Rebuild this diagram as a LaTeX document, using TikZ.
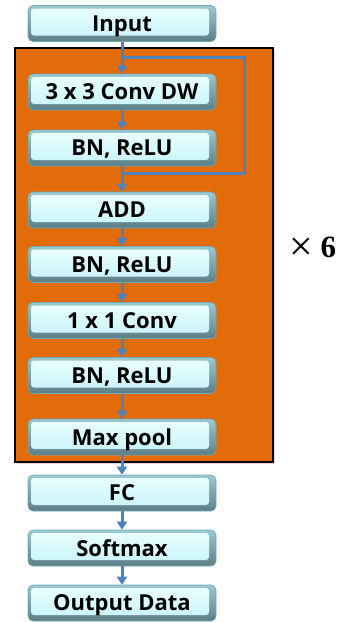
\documentclass[tikz,border=0pt]{standalone}
\usepackage{fontspec}
\setmainfont{Open Sans}
\newfontfamily\boxfont{Open Sans}[UprightFont={* Bold}]
\newfontfamily\serifx{Liberation Serif}
\usetikzlibrary{arrows.meta,shadows}
\definecolor{bevlight}{HTML}{9CC9D2}
\definecolor{bevdark}{HTML}{5C7E86}
\definecolor{bevedge}{HTML}{6FA9B6}
\definecolor{facetop}{HTML}{ECFFFF}
\definecolor{facebot}{HTML}{C4F3FA}
\definecolor{orangebg}{HTML}{E36C0A}
\definecolor{arrblue}{HTML}{4F81BD}
\tikzset{
  blk/.style={minimum width=188pt, minimum height=36pt, rounded corners=5pt, inner sep=0pt,
    font=\boxfont\fontsize{22}{22}\selectfont, text=black, text depth=0pt,
    top color=bevlight, bottom color=bevdark, draw=bevedge, line width=0.6pt,
    path picture={\shade[top color=facetop,bottom color=facebot,rounded corners=3pt]
      ([xshift=3pt,yshift=-3pt]path picture bounding box.north west) rectangle
      ([xshift=-7pt,yshift=6pt]path picture bounding box.south east);}},
  arr/.style={draw=arrblue, line width=3pt, -{Triangle[width=10pt,length=8pt]}},
  skipline/.style={draw=arrblue, line width=3pt},
  repbox/.style={draw=black, line width=2pt, fill=orangebg, minimum width=258pt, minimum height=414pt,
    drop shadow={shadow xshift=2pt, shadow yshift=-2pt, opacity=0.3}}
}
\begin{document}
\begin{tikzpicture}[x=1pt,y=-1pt]
\useasboundingbox (0,0) rectangle (344,622);
\node[repbox] (rep) at (144,255) {};
\node[blk] (in) at (122,23.5) {Input};
\node[blk] (dw) at (122,92) {3 x 3 Conv DW};
\node[blk] (bn1) at (122,148) {BN, ReLU};
\node[blk] (add) at (122,210) {ADD};
\node[blk] (bn2) at (122,264.5) {BN, ReLU};
\node[blk] (pw) at (122,320.5) {1 x 1 Conv};
\node[blk] (bn3) at (122,375.5) {BN, ReLU};
\node[blk] (mp) at (122,437) {Max pool};
\node[blk] (fc) at (122,493) {FC};
\node[blk] (sm) at (122,548) {Softmax};
\node[blk] (out) at (122,603) {Output Data};
\node[font=\serifx\fontsize{31}{31}\selectfont, inner sep=0pt, anchor=base] (times) at (313,257) {\raisebox{-3.5pt}{\fontsize{42}{42}\selectfont ×}\hspace{7pt}\textbf{6}};
\coordinate (s1) at (122,57);
\coordinate (s2) at (244,57);
\coordinate (s3) at (244,173);
\coordinate (s4) at (122,173);
\draw[skipline] (s1) -- (s2) -- (s3) -- (s4);
\draw[arr] (in) -- (dw);
\draw[arr] (dw) -- (bn1);
\draw[arr] (bn1) -- (add);
\draw[arr] (add) -- (bn2);
\draw[arr] (bn2) -- (pw);
\draw[arr] (pw) -- (bn3);
\draw[arr] (bn3) -- (mp);
\draw[arr] (mp) -- (fc);
\draw[arr] (fc) -- (sm);
\draw[arr] (sm) -- (out);
\end{tikzpicture}
\end{document}
